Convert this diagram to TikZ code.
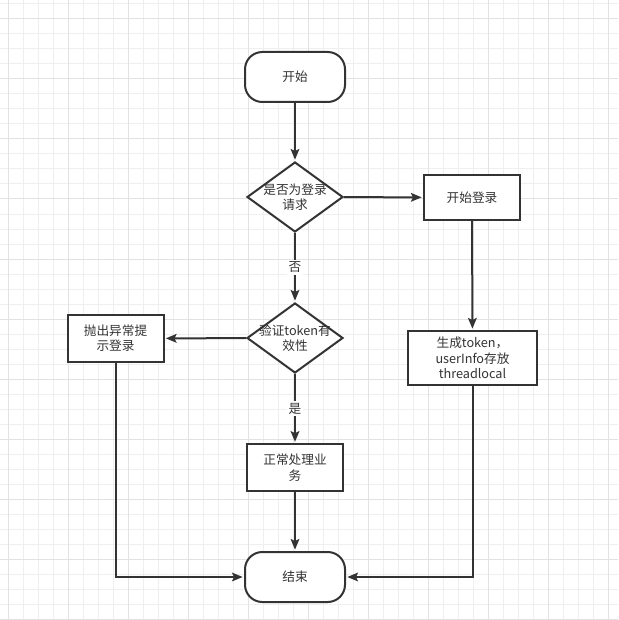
\documentclass[tikz,border=0pt]{standalone}
\usepackage{fontspec}
\newfontfamily\cjk{Noto Sans CJK SC}
\usepackage{xcolor}
\usetikzlibrary{arrows.meta,shapes.geometric}
\definecolor{linecol}{HTML}{333333}
\definecolor{gridminor}{HTML}{EFEFEF}
\definecolor{gridmajor}{HTML}{E2E2E2}

\begin{document}
\begin{tikzpicture}[x=0.75pt,y=-0.75pt,
  every node/.style={font=\cjk\fontsize{9.5}{11.5}\selectfont,text=linecol,align=center},
  term/.style={draw=linecol,line width=1.5pt,fill=white,rounded corners=13pt,
    minimum width=75pt,minimum height=37.5pt},
  proc/.style={draw=linecol,line width=1.5pt,fill=white,
    minimum width=72pt,minimum height=34pt},
  decision/.style={draw=linecol,line width=1.5pt,fill=white,shape=diamond,
    inner sep=0pt,minimum width=72pt,minimum height=52.5pt},
  lbl/.style={fill=white,inner sep=1.5pt},
  flow/.style={draw=linecol,line width=1.5pt,
    -{Stealth[length=8pt,width=6.5pt,inset=1.5pt]},shorten >=1pt}]
  \useasboundingbox (0,0) rectangle (618,620);
  % grid
  \fill[white] (0,0) rectangle (618,620);
  \foreach \k in {0,...,40}
    \draw[gridminor,line width=0.75pt] (8+15*\k,0) -- (8+15*\k,620);
  \foreach \k in {0,...,41}
    \draw[gridminor,line width=0.75pt] (0,4+15*\k) -- (618,4+15*\k);
  \foreach \k in {0,...,10}
    \draw[gridmajor,line width=0.75pt] (8+60*\k,0) -- (8+60*\k,620);
  \foreach \k in {0,...,10}
    \draw[gridmajor,line width=0.75pt] (0,19+60*\k) -- (618,19+60*\k);
  % shapes
  \node[term] (start) at (295,77) {开始};
  \node[decision] (q1) at (295,197) {};
  \node (q1t) at (q1) {是否为登录\\请求};
  \node[proc] (login) at (472,197.5) {开始登录};
  \node[decision] (q2) at (295,338) {};
  \node (q2t) at (q2) {验证token有\\效性};
  \node[proc,minimum height=35pt] (err) at (115.5,338.5) {抛出异常提\\示登录};
  \node[proc,minimum width=96.75pt,minimum height=40.5pt] (tok) at (472.5,358) {生成token，\\userInfo存放\\threadlocal};
  \node[proc,minimum height=35pt] (work) at (295,467.5) {正常处理业\\务};
  \node[term] (stop) at (295,577) {结束};
  % connectors
  \draw[flow] (start) -- (q1);
  \draw[flow] (q1) -- (login);
  \draw[flow] (q1) -- node[lbl] (no) {否} (q2);
  \draw[flow] (q2) -- (err);
  \draw[flow] (q2) -- node[lbl] (yes) {是} (work);
  \draw[flow] (login) -- (tok);
  \draw[flow] (work) -- (stop);
  \draw[flow] (err) |- (stop);
  \draw[flow] (tok) |- (stop);
\end{tikzpicture}
\end{document}
